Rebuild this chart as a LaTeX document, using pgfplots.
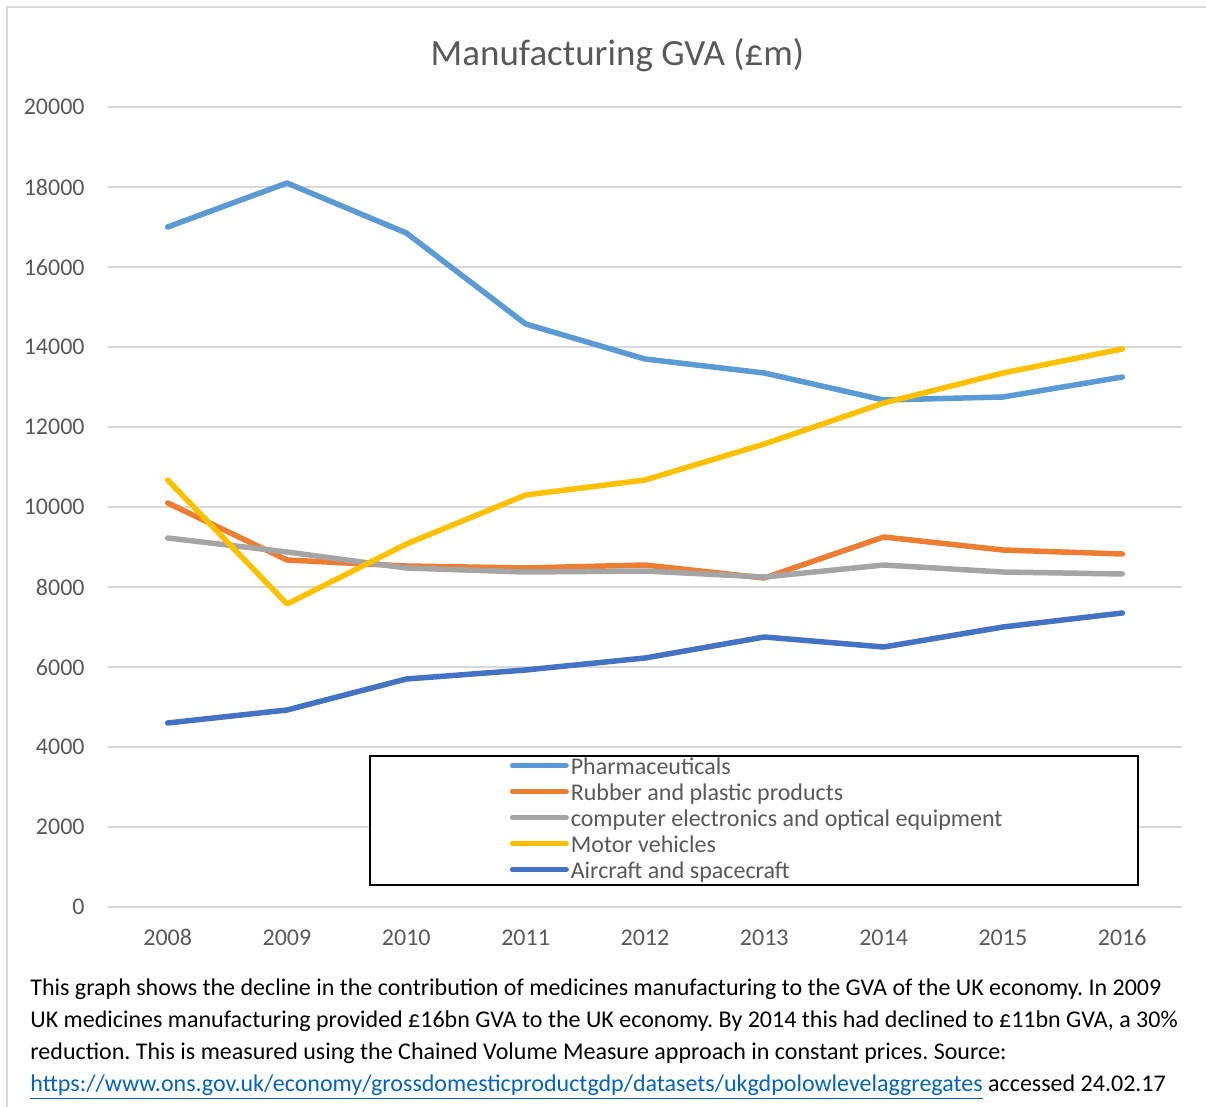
\documentclass[border=0pt]{standalone}
\usepackage{pgfplots}
\pgfplotsset{compat=1.18}
\usepackage{fontspec}
\setmainfont{Carlito}

\definecolor{pharma}{HTML}{5B9BD5}
\definecolor{rubber}{HTML}{ED7D31}
\definecolor{compgray}{HTML}{A5A5A5}
\definecolor{motor}{HTML}{FFC000}
\definecolor{aircraft}{HTML}{4472C4}
\definecolor{txtgray}{HTML}{595959}
\definecolor{gridgray}{HTML}{D9D9D9}
\definecolor{linkblue}{HTML}{0563C1}

\begin{document}
\frenchspacing
\begin{tikzpicture}
  % 1 px of the reference = 0.5pt
  \path[use as bounding box] (0pt,0pt) rectangle (603pt,-553.5pt);
  \draw[gridgray, line width=1pt] (3.5pt,-553.5pt) -- (3.5pt,-3.5pt) -- (603pt,-3.5pt);

  \node[txtgray, font=\fontsize{18.5}{22}\selectfont] at (308.75pt,-27.5pt) {Manufacturing GVA (£m)};

  \begin{axis}[
    at={(54pt,-453.5pt)}, anchor=south west,
    scale only axis,
    width=537pt, height=400pt,
    xmin=2007.5, xmax=2016.5,
    ymin=0, ymax=20000,
    xtick={2008,...,2016},
    ytick={0,2000,...,20000},
    scaled y ticks=false,
    ymajorgrids,
    grid style={gridgray, line width=0.9pt},
    axis line style={draw=none},
    tick style={draw=none},
    /pgf/number format/.cd, 1000 sep={}, assume math mode=true,
    /pgfplots/.cd,
    ticklabel style={font=\fontsize{12}{14}\selectfont, text=txtgray, inner sep=0pt},
    yticklabel style={anchor=east, xshift=-11.5pt},
    xticklabel style={anchor=base, yshift=-19pt},
    every axis plot/.append style={line width=2.75pt, line cap=round, line join=round},
    legend image code/.code={\draw[#1, line width=2.5pt, line cap=round] (0pt,1.2pt) -- (27pt,1.2pt);},
    legend cell align=left,
    legend style={draw=none, fill=none, at={(axis cs:2012.94,2175)}, anchor=center,
      font=\fontsize{12}{13}\selectfont, text=txtgray, row sep=0pt,
      nodes={inner sep=1pt, text height=8.5pt, text depth=2.5pt}},
  ]
    \fill[white] (axis cs:2009.696,3775) rectangle (axis cs:2016.131,550);
    \draw[black, line width=1pt] (axis cs:2009.696,3775) rectangle (axis cs:2016.131,550);

    \addplot[pharma] coordinates {
      (2008,17000) (2009,18100) (2010,16850) (2011,14575) (2012,13700)
      (2013,13350) (2014,12675) (2015,12750) (2016,13250)};
    \addlegendentry{Pharmaceuticals}

    \addplot[rubber] coordinates {
      (2008,10100) (2009,8675) (2010,8525) (2011,8475) (2012,8550)
      (2013,8225) (2014,9250) (2015,8925) (2016,8825)};
    \addlegendentry{Rubber and plastic products}

    \addplot[compgray] coordinates {
      (2008,9225) (2009,8875) (2010,8475) (2011,8375) (2012,8400)
      (2013,8250) (2014,8550) (2015,8375) (2016,8325)};
    \addlegendentry{computer electronics and optical equipment}

    \addplot[motor] coordinates {
      (2008,10675) (2009,7575) (2010,9075) (2011,10300) (2012,10675)
      (2013,11575) (2014,12600) (2015,13350) (2016,13950)};
    \addlegendentry{Motor vehicles}

    \addplot[aircraft] coordinates {
      (2008,4600) (2009,4925) (2010,5700) (2011,5925) (2012,6225)
      (2013,6750) (2014,6500) (2015,7000) (2016,7350)};
    \addlegendentry{Aircraft and spacecraft}
  \end{axis}

  \begin{scope}[every node/.style={anchor=base west, inner sep=0pt, font=\fontsize{12}{14}\selectfont}]
    \node at (15pt,-497.5pt) {This graph shows the decline in the contribution of medicines manufacturing to the GVA of the UK economy. In 2009};
    \node at (15pt,-513.5pt) {UK medicines manufacturing provided £16bn GVA to the UK economy. By 2014 this had declined to £11bn GVA, a 30\%};
    \node at (15pt,-529.5pt) {reduction. This is measured using the Chained Volume Measure approach in constant prices. Source:};
    \node at (15pt,-545.5pt) {{\color{linkblue}\underline{https://www.ons.gov.uk/economy/grossdomesticproductgdp/datasets/ukgdpolowlevelaggregates}} accessed 24.02.17};
  \end{scope}
\end{tikzpicture}
\end{document}
